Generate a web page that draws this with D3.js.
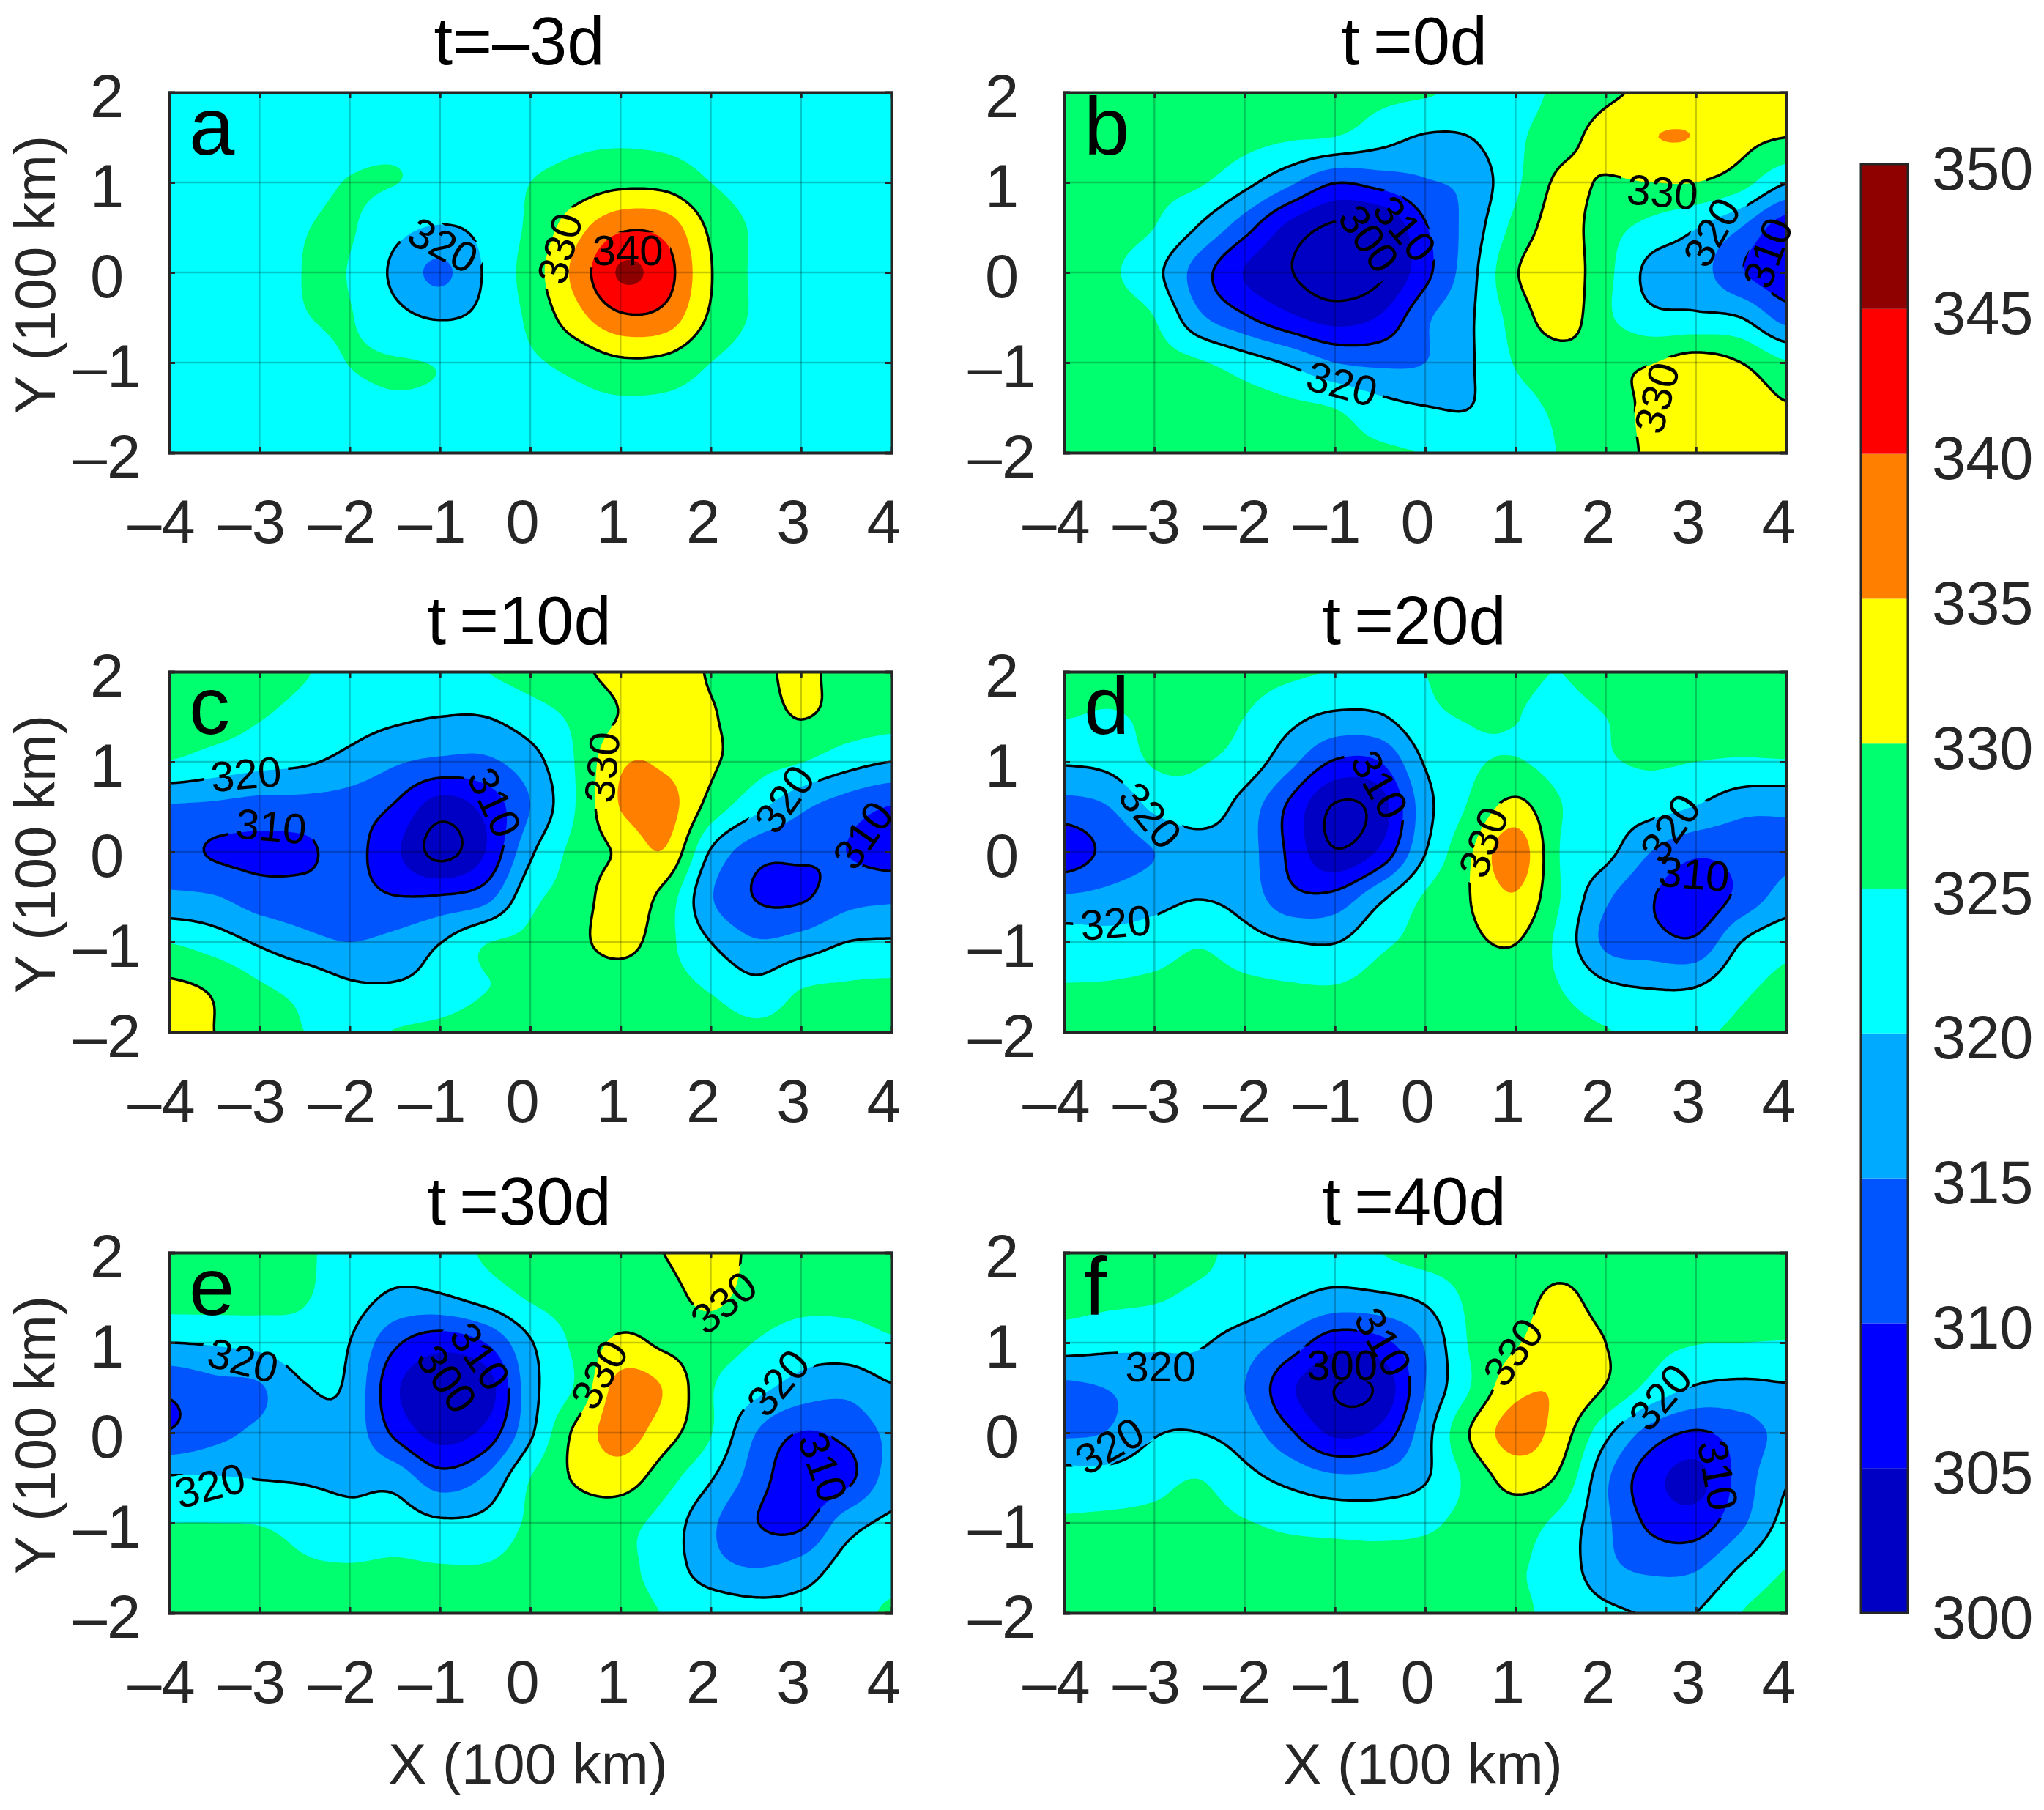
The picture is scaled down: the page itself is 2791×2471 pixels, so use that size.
<!DOCTYPE html>
<html>
<head>
<meta charset="utf-8">
<script src="https://cdn.jsdelivr.net/npm/d3@7"></script>
<style>
  html, body { margin: 0; background: #fff; }
  text { font-family: "Liberation Sans", Arial, sans-serif; }
</style>
</head>
<body>
<svg id="chart" width="2791" height="2471"></svg>
<script>
// grid axes, values below are one row per gridY, one column per gridX
const gridX = [-4, -3.5, -3, -2.5, -2, -1.5, -1, -0.5, 0, 0.5, 1, 1.5, 2, 2.5, 3, 3.5, 4]
const gridY = [2, 1.5, 1, 0.5, 0, -0.5, -1, -1.5, -2]

const fillLevels = [300, 305, 310, 315, 320, 325, 330, 335, 340, 345, 350]
const fillColors = ['#0000c4', '#0000ff', '#0055ff', '#00aaff', '#00ffff', '#00ff6e', '#ffff00', '#ff8000', '#ff0000', '#8f0000']
const lineLevels = [300, 310, 320, 330, 340]
const xTicks = [-4, -3, -2, -1, 0, 1, 2, 3, 4]
const yTicks = [-2, -1, 0, 1, 2]
const titles = ['t=\u20133d', 't\u2009=0d', 't\u2009=10d', 't\u2009=20d', 't\u2009=30d', 't\u2009=40d']
const letters = ['a', 'b', 'c', 'd', 'e', 'f']

const valuesA = [
  [322, 322, 322, 322, 322, 322, 322, 322, 322, 322, 322, 322, 322, 322, 322, 322, 322],
  [322, 322, 322, 322.5, 323.3, 323.8, 323, 322.5, 323, 324, 324.2, 323.8, 323, 322.5, 322, 322, 322],
  [322, 322, 322.2, 323.5, 325.2, 325.1, 323.5, 322.5, 325, 327, 328.7, 328.3, 325, 323, 322.2, 322, 322],
  [322, 322, 322.5, 324.8, 325.4, 321.5, 319.7, 321.3, 326, 333, 339, 338, 329, 324.3, 322.3, 322, 322],
  [322, 322, 322.5, 325.1, 324.8, 319, 314, 320.5, 327.3, 336.3, 345.5, 342, 330.3, 324.2, 322.3, 322, 322],
  [322, 322, 322.5, 324.8, 325.2, 321.5, 319.7, 321.3, 326, 333, 339, 338, 329.2, 324.3, 322.3, 322, 322],
  [322, 322, 322.2, 323, 325.1, 325.3, 324.7, 323, 324.3, 326.5, 329, 328.5, 325, 323, 322.2, 322, 322],
  [322, 322, 322, 322.5, 323.5, 324.3, 323.8, 322.5, 322.5, 323.5, 324, 323.8, 323, 322.3, 322, 322, 322],
  [322, 322, 322, 322, 322, 322, 322, 322, 322, 322, 322, 322, 322, 322, 322, 322, 322]
]
const valuesB = [
  [328, 328, 328, 327.8, 327.5, 327, 326.5, 326, 325.5, 324, 323.5, 326, 329, 331, 332, 331.5, 331],
  [328, 328, 328, 327.5, 326.5, 325.5, 324.9, 322, 319.5, 320, 324, 328, 332, 334.8, 334.8, 331.5, 330],
  [327.5, 327, 326.2, 325.5, 321.5, 316, 310.2, 312, 314.5, 316.5, 324, 331, 329.5, 330, 330, 327, 320.3],
  [327.5, 326.8, 325, 319.5, 312, 303.5, 299, 299.5, 309.5, 317, 326.5, 332, 327, 323.5, 320.2, 315, 307],
  [327.5, 325.8, 321.5, 312.5, 304.7, 300.3, 297, 299, 308.5, 318.2, 329.5, 332.8, 326.5, 318.6, 317.3, 310.5, 306.5],
  [328, 327, 325, 316, 310.7, 306, 303, 305.5, 314, 319.4, 327, 332.5, 326, 321.5, 321, 320, 313],
  [329, 328, 327, 325.5, 322.5, 319.3, 315, 314, 315, 319.5, 325.3, 327.5, 329, 329.8, 332, 330, 325.5],
  [329.5, 329, 328.5, 328, 327, 326, 324.9, 321.8, 320.2, 320, 323.5, 325.8, 328, 331, 333, 333, 330.5],
  [329.5, 329.5, 329, 328.5, 328, 327, 326, 325.6, 324.8, 323, 323.5, 325.2, 328, 330.6, 332, 333, 333]
]
const valuesC = [
  [327, 327, 326.5, 325.3, 323, 322, 322.5, 324.9, 327, 329, 331.5, 333.5, 329.5, 328.5, 331.5, 327.5, 327],
  [327, 327, 325.3, 323.5, 322, 320.8, 320, 320, 322.7, 326, 330.3, 334, 330.5, 328, 330.2, 328, 327],
  [324.8, 323, 321.5, 320.6, 318.5, 315.6, 314, 314, 318, 325.2, 334.3, 334.3, 330.8, 327, 325.2, 322, 320],
  [314.5, 314, 313, 313, 312.5, 309.5, 302.5, 306.5, 315, 325, 335.2, 337, 328, 321.5, 316, 312.5, 309.8],
  [312, 309.5, 308.8, 309.2, 311.5, 306, 298.5, 305, 319, 326.5, 330.8, 334.5, 319.5, 312, 311, 310, 308],
  [316, 315.3, 312.5, 312, 311.8, 310.2, 310.5, 313, 323.5, 327, 333, 328, 315.5, 309.8, 309.4, 313, 314],
  [324.8, 322.5, 319.3, 316.5, 315, 316.5, 319.8, 324.7, 326, 328.5, 332, 326.5, 320, 315.5, 317, 320, 320.5],
  [331, 329.2, 325.6, 323.5, 320.8, 320.5, 322, 324.8, 326, 326.5, 326.5, 326.5, 324.5, 321.5, 324.8, 325.5, 325.8],
  [334, 330, 326.5, 325, 323.5, 325.2, 326, 327, 327, 327, 327, 327, 327, 326, 326.5, 327, 327]
]
const valuesD = [
  [327, 327, 327, 327, 326.5, 325.7, 324.8, 323.8, 325, 326, 325.7, 325, 326.5, 327, 327, 327, 327],
  [325.2, 324.5, 326, 326.5, 325, 321.5, 319, 319.5, 324, 325.2, 325.1, 324, 325, 326.5, 327, 327, 327],
  [320.5, 321.5, 325.5, 325.3, 323, 316.5, 309.5, 310, 320.5, 324.3, 325.3, 323.5, 324.6, 325.5, 325, 324.5, 324.7],
  [313, 315, 321, 322.5, 318, 309, 299.5, 302.5, 318, 325.7, 331.5, 325.2, 322.5, 321.8, 319.8, 316.5, 316],
  [307, 311.5, 315, 318, 317, 309, 300.5, 306, 319.8, 329.5, 338, 324.8, 321.5, 315, 311, 312, 314],
  [315.5, 316.5, 318.3, 319.8, 318, 311.5, 311.5, 318.8, 325.6, 330, 334.5, 325, 316, 310.5, 306.5, 311.5, 317],
  [322.5, 321.8, 322.5, 324.5, 322, 320.2, 319.8, 324, 326.5, 329, 330.2, 323.5, 314, 312, 311, 320, 323.5],
  [325.2, 325.4, 326, 327, 326, 325.4, 325.2, 326.5, 327, 327, 327, 325, 321, 319.8, 320, 324, 326],
  [327, 327, 327, 327, 327, 327, 327, 327, 327, 327, 327, 326.5, 325.3, 323.5, 324.3, 325.8, 327]
]
const valuesE = [
  [327, 327, 326.5, 325.5, 323.5, 322, 322.5, 325.6, 327, 327.5, 328.5, 330.1, 333, 328.5, 327, 326.5, 326],
  [327, 327, 326.5, 325.3, 322.5, 319, 319.3, 322, 325.5, 327, 327.5, 328.5, 331, 328, 326.5, 326, 326],
  [320, 320.5, 321.5, 323, 320, 311, 307, 310, 319.5, 326, 331, 329, 327.5, 324.8, 322.5, 323, 324.5],
  [311, 313.5, 314.5, 319.7, 319, 306, 300.5, 302, 318, 325.5, 337, 334.5, 325.5, 321.5, 318, 316.5, 319.5],
  [310.3, 313.5, 316, 318, 318, 309, 303, 306.5, 319, 331, 337, 332, 325.3, 315, 309.8, 311.5, 316],
  [320.5, 320.3, 319.8, 319.5, 318.8, 318, 312, 315.5, 325, 330.5, 332.5, 327, 320.5, 312.5, 306.5, 308.5, 317],
  [325, 325, 324.8, 323.5, 322, 322.5, 320.8, 321.5, 325.7, 327, 326.5, 323, 316, 310.2, 309, 317.5, 321],
  [327, 327, 326.5, 325.5, 325.3, 325.6, 325.3, 325.3, 326.5, 327, 326, 323, 317, 315, 317, 322, 323.5],
  [327, 327, 327, 327, 327, 327, 327, 327, 327, 327, 326.5, 324.8, 323.5, 322, 322, 323.5, 325.5]
]
const valuesF = [
  [327, 327, 327, 326, 323.5, 322.5, 322.5, 325, 327, 327.5, 328, 328, 327.5, 327, 327, 327, 327],
  [326.5, 326, 325.5, 324, 323, 320.5, 318.5, 319, 321, 326, 328, 331, 328, 327, 327, 327, 327],
  [322.5, 321.5, 321, 320.5, 317.5, 313, 307, 308.5, 315.5, 325.5, 329.5, 333, 330, 326.5, 325.2, 325, 324.8],
  [314, 315.2, 317, 318, 315, 306, 300, 301, 315, 325, 333.5, 334.5, 329.7, 323.5, 319.5, 318.7, 319.5],
  [314.3, 315.3, 319.6, 320, 317.5, 310.8, 304, 306.5, 318, 330.2, 337, 332.5, 321.5, 313, 309.5, 312.5, 316.5],
  [322, 322, 323.5, 324.9, 321.5, 318.5, 316, 316.5, 319.5, 326.5, 332, 329, 316, 307, 303.5, 312, 319.5],
  [325.5, 325.8, 326, 326.5, 325.3, 324, 323.3, 323, 324, 326.5, 327, 323.5, 316, 309, 307.5, 314, 321.5],
  [327, 327, 327, 327, 327, 327, 327, 327, 327, 327, 325.5, 323, 316.5, 314, 314.5, 320.5, 325],
  [327, 327, 327, 327, 327, 327, 327, 327, 327, 327, 325.8, 323.7, 321, 319.7, 320, 325, 327]
]
const panelValues = [valuesA, valuesB, valuesC, valuesD, valuesE, valuesF]

// contour labels: text, x, y, angle
const labelsA = [['320', -0.96, 0.31, 28], ['330', 0.32, 0.27, -75], ['340', 1.08, 0.25, 0]]
const labelsB = [['330', 2.63, 0.9, 5], ['330', 2.56, -1.39, -75], ['320', 3.17, 0.45, -60], ['310', 3.79, 0.22, -70],
  ['320', -0.92, -1.23, 15], ['310', -0.22, 0.49, 50], ['300', -0.62, 0.38, 55]]
const labelsC = [['320', -3.15, 0.87, -5], ['310', -2.87, 0.29, 5], ['310', -0.39, 0.55, 65], ['330', 0.79, 0.94, -85],
  ['320', 2.81, 0.59, -55], ['310', 3.68, 0.19, -55]]
const labelsD = [['320', -3.04, 0.41, 50], ['310', -0.5, 0.75, 60], ['330', 0.64, 0.11, -70], ['320', -3.43, -0.78, -5],
  ['320', 2.71, 0.27, -55], ['310', 2.98, -0.24, 5]]
const labelsE = [['320', -3.18, 0.81, 15], ['320', -3.55, -0.58, -15], ['310', -0.55, 0.85, 55], ['300', -0.92, 0.6, 55],
  ['330', 2.14, 1.45, -40], ['330', 0.76, 0.65, -60], ['320', 2.74, 0.56, -50], ['310', 3.25, -0.38, 70]]
const labelsF = [['320', -2.93, 0.74, 0], ['320', -3.5, -0.14, -30], ['310', -0.46, 1.01, 60], ['300', -0.92, 0.76, 0],
  ['330', 0.97, 0.9, -55], ['320', 2.6, 0.4, -50], ['310', 3.25, -0.47, 80]]
const panelLabels = [labelsA, labelsB, labelsC, labelsD, labelsE, labelsF]

const columns = [231, 1453]
const rows = [126, 917, 1710]
const plotW = 986
const plotH = 492
const inkColor = '#262626'
const minus = v => String(v).replace('-', '\u2013')

const svg = d3.select('#chart')

/**
 * Resamples the read grid with a cubic through its points so that the contour
 * lines come out round instead of faceted.
 *
 * @param {number[][]} values The grid, one array per row
 * @param {number} k The number of fine cells per grid cell
 * @returns {object} The fine grid as a flat array, with its size
 */
function resample (values, k) {
  const ny = values.length
  const nx = values[0].length
  const w = (nx - 1) * k + 1
  const h = (ny - 1) * k + 1
  const cubic = (a, b, c, d, t) =>
    b + 0.5 * t * (c - a + t * (2 * a - 5 * b + 4 * c - d + t * (3 * (b - c) + d - a)))
  const at = (j, i) => values[Math.max(0, Math.min(ny - 1, j))][Math.max(0, Math.min(nx - 1, i))]
  const out = new Array(w * h)
  for (let r = 0; r < h; r++) {
    const j = Math.min(Math.floor(r / k), ny - 2)
    const ty = r / k - j
    for (let c = 0; c < w; c++) {
      const i = Math.min(Math.floor(c / k), nx - 2)
      const tx = c / k - i
      const col = [-1, 0, 1, 2].map(dj => cubic(at(j + dj, i - 1), at(j + dj, i), at(j + dj, i + 1), at(j + dj, i + 2), tx))
      out[r * w + c] = cubic(col[0], col[1], col[2], col[3], ty)
    }
  }
  return { out, w, h }
}

/**
 * Draws one contour panel.
 *
 * @param {number} idx The panel index
 * @param {number} left The left edge of the plot
 * @param {number} top The top edge of the plot
 */
function drawPanel (idx, left, top) {
  const g = svg.append('g').attr('transform', `translate(${left},${top})`)
  const x = d3.scaleLinear().domain([-4, 4]).range([0, plotW])
  const y = d3.scaleLinear().domain([-2, 2]).range([plotH, 0])

  const k = 12
  const { out, w, h } = resample(panelValues[idx], k)
  const stepX = (gridX[gridX.length - 1] - gridX[0]) / (w - 1)
  const stepY = (gridY[gridY.length - 1] - gridY[0]) / (h - 1)
  const projection = d3.geoTransform({
    point (px, py) {
      this.stream.point(x(gridX[0] + (px - 0.5) * stepX), y(gridY[0] + (py - 0.5) * stepY))
    }
  })
  const path = d3.geoPath(projection)
  const contours = d3.contours().size([w, h]).smooth(true)

  const defs = g.append('defs')
  defs.append('clipPath').attr('id', `clip-${idx}`)
    .append('rect').attr('width', plotW).attr('height', plotH)

  // holes in the contour lines under their labels
  const mask = defs.append('mask').attr('id', `gaps-${idx}`).attr('maskUnits', 'userSpaceOnUse')
    .attr('x', -20).attr('y', -20).attr('width', plotW + 40).attr('height', plotH + 40)
  mask.append('rect').attr('x', -20).attr('y', -20).attr('width', plotW + 40).attr('height', plotH + 40).attr('fill', 'white')
  mask.selectAll('rect.gap')
    .data(panelLabels[idx])
    .join('rect')
    .attr('class', 'gap')
    .attr('x', -58).attr('y', -24).attr('width', 116).attr('height', 48)
    .attr('fill', 'black')
    .attr('transform', d => `translate(${x(d[1])},${y(d[2])}) rotate(${d[3]})`)

  const body = g.append('g').attr('clip-path', `url(#clip-${idx})`)
  body.append('rect').attr('width', plotW).attr('height', plotH).attr('fill', fillColors[0])

  body.append('g')
    .selectAll('path')
    .data(fillLevels.slice(0, -1).map((level, i) => ({ level, color: fillColors[i] })))
    .join('path')
    .attr('fill', d => d.color)
    .attr('d', d => path(contours.contour(out, d.level)))

  body.append('g')
    .attr('mask', `url(#gaps-${idx})`)
    .selectAll('path')
    .data(lineLevels)
    .join('path')
    .attr('fill', 'none')
    .attr('stroke', '#000')
    .attr('stroke-width', 3.5)
    .attr('d', d => path(contours.contour(out, d)))

  // grid
  const grid = g.append('g').attr('stroke', '#000').attr('stroke-opacity', 0.22).attr('stroke-width', 2.5)
  grid.selectAll('line.gx').data(xTicks.slice(1, -1)).join('line').attr('class', 'gx')
    .attr('x1', d => x(d)).attr('x2', d => x(d)).attr('y1', 0).attr('y2', plotH)
  grid.selectAll('line.gy').data(yTicks.slice(1, -1)).join('line').attr('class', 'gy')
    .attr('x1', 0).attr('x2', plotW).attr('y1', d => y(d)).attr('y2', d => y(d))

  // axes
  const xAxis = g.append('g').attr('transform', `translate(0,${plotH})`)
    .call(d3.axisBottom(x).tickValues(xTicks).tickFormat(minus).tickSize(-8))
  const yAxis = g.append('g')
    .call(d3.axisLeft(y).tickValues(yTicks).tickFormat(minus).tickSize(-8))
  g.append('g').call(d3.axisTop(x).tickValues(xTicks).tickFormat('').tickSize(-8))
  g.append('g').attr('transform', `translate(${plotW},0)`)
    .call(d3.axisRight(y).tickValues(yTicks).tickFormat('').tickSize(-8))

  g.selectAll('.domain').attr('stroke', inkColor).attr('stroke-width', 4)
  g.selectAll('.tick line').attr('stroke', inkColor).attr('stroke-width', 3)
  xAxis.selectAll('text')
    .attr('font-size', 83).attr('fill', inkColor)
    .attr('dy', null).attr('x', -11).attr('y', 123)
    .attr('text-anchor', 'middle')
  yAxis.selectAll('text')
    .attr('font-size', 83).attr('fill', inkColor)
    .attr('dy', null).attr('x', -85).attr('y', 33)
    .attr('text-anchor', 'middle')

  // contour labels
  g.append('g')
    .selectAll('text')
    .data(panelLabels[idx])
    .join('text')
    .attr('font-size', 58)
    .attr('text-anchor', 'middle')
    .attr('dy', 21)
    .attr('fill', '#000')
    .attr('transform', d => `translate(${x(d[1])},${y(d[2])}) rotate(${d[3]})`)
    .text(d => d[0])

  g.append('text')
    .attr('x', plotW / 2 - 15).attr('y', -38)
    .attr('text-anchor', 'middle').attr('font-size', 92).attr('fill', '#000')
    .text(titles[idx])

  g.append('text')
    .attr('x', 27).attr('y', 85)
    .attr('font-size', 112).attr('fill', '#000')
    .text(letters[idx])

  if (left === columns[0]) {
    g.append('text')
      .attr('transform', `translate(${75 - left},${plotH / 2 + 3}) rotate(-90)`)
      .attr('text-anchor', 'middle').attr('font-size', 78).attr('fill', inkColor)
      .text('Y (100 km)')
  }
  if (top === rows[2]) {
    g.append('text')
      .attr('x', plotW / 2 - 3).attr('y', 2435 - top)
      .attr('text-anchor', 'middle').attr('font-size', 78).attr('fill', inkColor)
      .text('X (100 km)')
  }
}

/**
 * Draws the colorbar from the fill levels.
 */
function drawColorbar () {
  const scale = d3.scaleLinear().domain([300, 350]).range([2202, 224])
  const g = svg.append('g')
  g.selectAll('rect')
    .data(fillColors)
    .join('rect')
    .attr('x', 2541).attr('width', 64)
    .attr('y', (d, i) => scale(fillLevels[i + 1]))
    .attr('height', (d, i) => scale(fillLevels[i]) - scale(fillLevels[i + 1]))
    .attr('fill', d => d)
  g.append('rect')
    .attr('x', 2541).attr('width', 64)
    .attr('y', scale(350)).attr('height', scale(300) - scale(350))
    .attr('fill', 'none').attr('stroke', inkColor).attr('stroke-width', 3)
  const axis = svg.append('g').attr('transform', 'translate(2605,0)')
    .call(d3.axisRight(scale).tickValues(fillLevels).tickSize(0))
  axis.select('.domain').remove()
  axis.selectAll('text')
    .attr('font-size', 83).attr('fill', inkColor)
    .attr('x', 33).attr('dy', null).attr('y', 34)
    .attr('text-anchor', 'start')
}

rows.forEach((top, r) => columns.forEach((left, c) => drawPanel(r * 2 + c, left, top)))
drawColorbar()
</script>
</body>
</html>
